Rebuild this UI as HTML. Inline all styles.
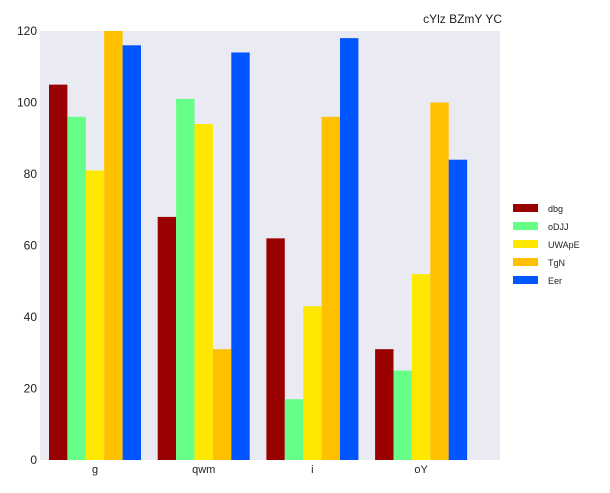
<!DOCTYPE html>
<html><head><meta charset="utf-8"><style>
body{margin:0;background:#fff;font-family:"Liberation Sans","DejaVu Sans",sans-serif;}
</style></head><body>
<svg id="chart" width="610" height="488" xmlns="http://www.w3.org/2000/svg">
<text x="502" y="23" text-anchor="end" font-size="12" fill="#222">cYlz BZmY YC</text>
<rect x="40" y="31" width="460" height="429" fill="#eaeaf2"/>
<g id="bars"></g><g id="yaxis"></g><g id="xaxis"></g><g id="legend"></g>
</svg>
<script>
const categories=["g","qwm","i","oY"];
const seriesNames=["dbg","oDJJ","UWApE","TgN","Eer"];
const dbg=[105,68,62,31];
const oDJJ=[96,101,17,25];
const UWApE=[81,94,43,52];
const TgN=[120,31,96,100];
const Eer=[116,114,118,84];
const yTicks=[0,20,40,60,80,100,120];
const colors=["#990000","#66ff88","#ffe800","#ffc000","#0055ff"];
const series=[dbg,oDJJ,UWApE,TgN,Eer];
const NS="http://www.w3.org/2000/svg";
const plotTop=31,plotBottom=460,ymax=120;
const yScale=v=>plotBottom-(v/ymax)*(plotBottom-plotTop);
const x0=49,step=108.7,bw=18.4;
const xb=(c,s)=>x0+c*step+s*bw;
function mk(t,a,p){const e=document.createElementNS(NS,t);for(const k in a)e.setAttribute(k,a[k]);document.getElementById(p).appendChild(e);return e;}
series.forEach((arr,s)=>arr.forEach((v,c)=>{
 const r=mk("rect",{x:xb(c,s),y:yScale(v),width:bw,height:plotBottom-yScale(v),fill:colors[s]},"bars");
 
 
}));
yTicks.forEach(t=>{
 const e=mk("text",{x:37,y:yScale(t)+4,"text-anchor":"end","font-size":"12",fill:"#222"},"yaxis");
 e.textContent=t;
 
 
});
categories.forEach((c,i)=>{
 const e=mk("text",{x:xb(i,2.5),y:473,"text-anchor":"middle","font-size":"11",fill:"#222"},"xaxis");
 e.textContent=c;
 
 
});
seriesNames.forEach((n,i)=>{
 const yy=204+i*18;
 const r=mk("rect",{x:513,y:yy,width:25,height:8,fill:colors[i]},"legend");
 
 
 const t=mk("text",{x:548,y:yy+8,"font-size":"9",fill:"#222"},"legend");
 t.textContent=n;
 
 
});
</script>
</body></html>
